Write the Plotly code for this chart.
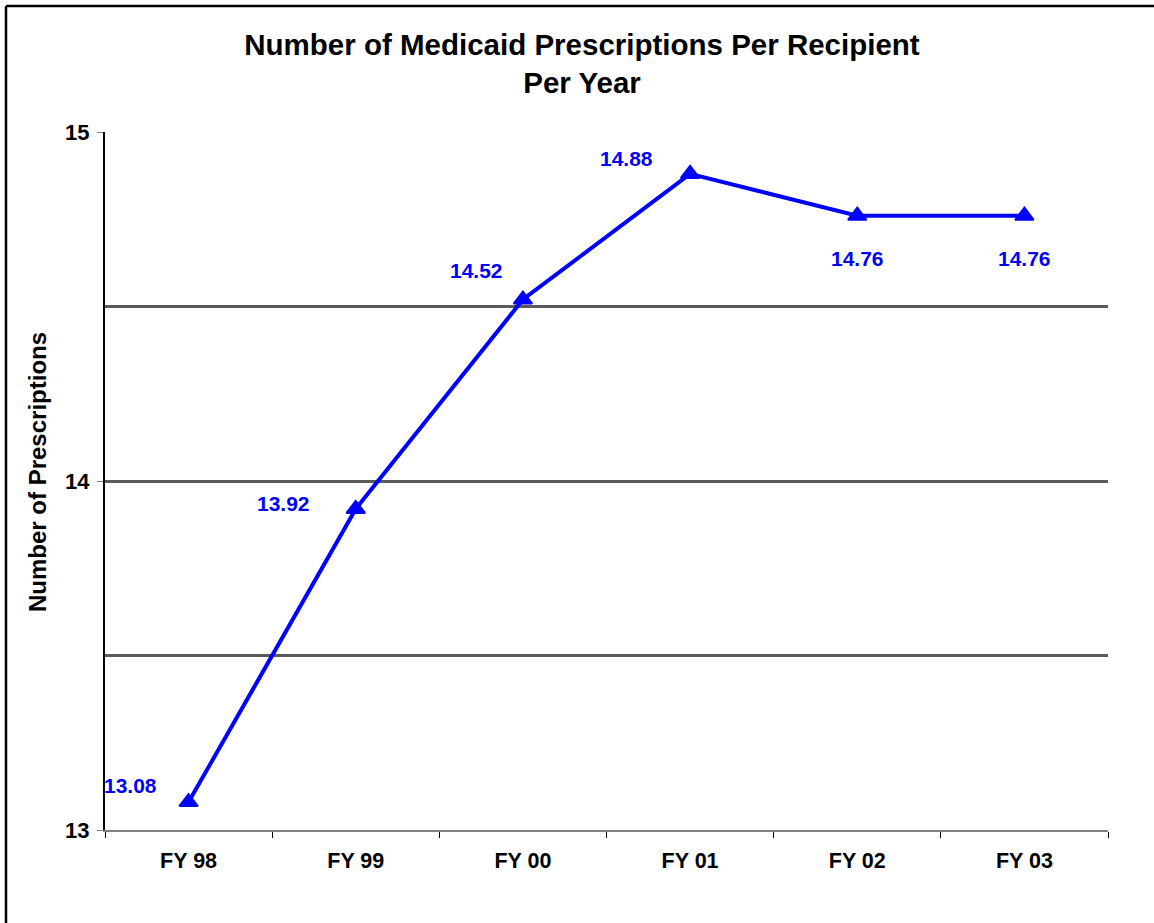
import plotly.graph_objects as go

# ---- data ----
years = ["FY 98", "FY 99", "FY 00", "FY 01", "FY 02", "FY 03"]
prescriptions = [13.08, 13.92, 14.52, 14.88, 14.76, 14.76]
value_labels = ["13.08", "13.92", "14.52", "14.88", "14.76", "14.76"]
y_ticks = [13, 14, 15]

# label offsets in pixels (style)
label_dx = [-58, -72, -46, -64, 0, 0]
label_dy = [17, 5, 29, 15, -43, -43]

W, H = 1154, 923
ML, MR, MT, MB = 105, 46, 132, 93
PW, PH = W - ML - MR, H - MT - MB

FONT = "Arial, Liberation Sans, sans-serif"
BLUE = "#0000FF"

fig = go.Figure()
fig.add_trace(go.Scatter(
    x=years, y=prescriptions, mode="lines+markers",
    line=dict(color=BLUE, width=4),
    marker=dict(symbol="triangle-up", size=16, color=BLUE, line=dict(color=BLUE, width=2)),
    hoverinfo="skip", showlegend=False, cliponaxis=False,
))


def px_x(p):
    return (p - ML) / PW


def px_y(p):
    return (H - MB - p) / PH


annotations = []
for x, y, t, dx, dy in zip(years, prescriptions, value_labels, label_dx, label_dy):
    annotations.append(dict(
        x=x, y=y, xref="x", yref="y", text=f"<b>{t}</b>", showarrow=False,
        xshift=dx, yshift=dy, xanchor="center", yanchor="middle",
        font=dict(family=FONT, size=21, color=BLUE),
    ))

# y-axis title
annotations.append(dict(
    x=px_x(37), y=px_y(472),
    xref="paper", yref="paper", text="<b>Number of Prescriptions</b>", showarrow=False,
    textangle=-90, xanchor="center", yanchor="middle",
    font=dict(family=FONT, size=24, color="black"),
))

shapes = [
    dict(type="line", xref="paper", yref="paper", x0=px_x(6), x1=px_x(1170),
         y0=px_y(6), y1=px_y(6), line=dict(color="black", width=2.5), layer="above"),
    dict(type="line", xref="paper", yref="paper", x0=px_x(6), x1=px_x(6),
         y0=px_y(6), y1=px_y(940), line=dict(color="black", width=2.5), layer="above"),
]

fig.update_layout(
    width=W, height=H,
    margin=dict(l=ML, r=MR, t=MT, b=MB, pad=0),
    paper_bgcolor="white", plot_bgcolor="white",
    font=dict(family=FONT, color="black"),
    title=dict(
        text="<b>Number of Medicaid Prescriptions Per Recipient<br>Per Year</b>",
        x=582 / W, xref="container", xanchor="center",
        y=1 - 55 / H, yref="container", yanchor="middle",
        font=dict(family=FONT, size=29.5, color="black"),
    ),
    xaxis=dict(
        type="category", range=[-0.5, len(years) - 0.5],
        showline=True, linecolor="#808080", linewidth=2,
        ticks="outside", tickson="boundaries", ticklen=6, tickcolor="black", tickwidth=1,
        showgrid=False, zeroline=False,
        tickfont=dict(family=FONT, size=21.5, color="black"),
        tickprefix="<b>", ticksuffix="</b>",
        ticklabelstandoff=10,
    ),
    yaxis=dict(
        range=[13, 15], tickvals=y_ticks, ticktext=[f"<b>{v}</b>" for v in y_ticks],
        showline=True, linecolor="black", linewidth=2,
        ticks="outside", ticklen=6, tickcolor="#808080", tickwidth=1,
        showgrid=False, zeroline=False,
        tickfont=dict(family=FONT, size=22, color="black"),
        ticklabelstandoff=3,
        minor=dict(dtick=0.5, showgrid=True, gridcolor="#5a5a5a", gridwidth=3, ticks=""),
    ),
    annotations=annotations,
    shapes=shapes,
)

fig.write_html("out.html")
